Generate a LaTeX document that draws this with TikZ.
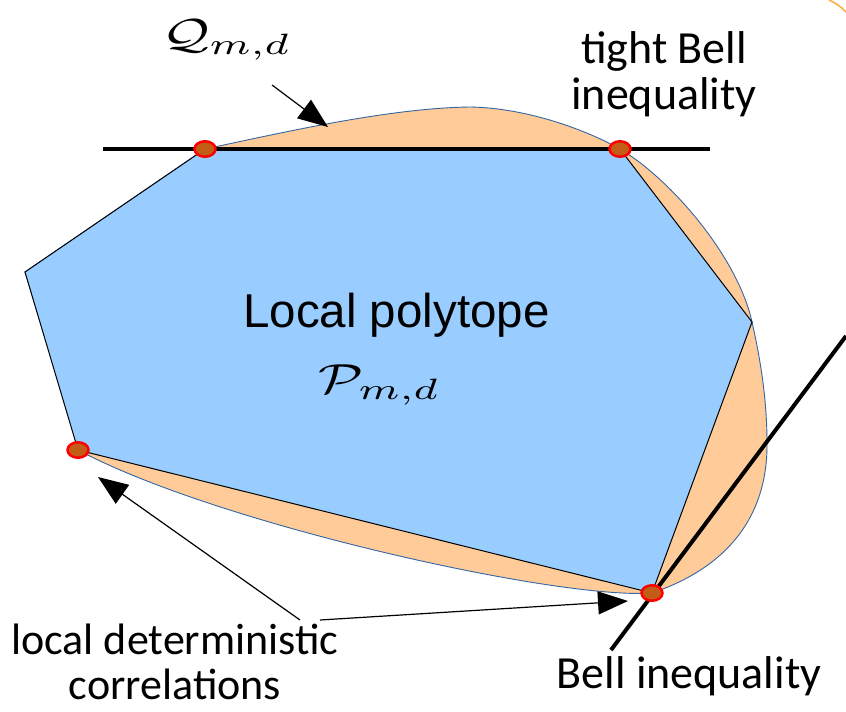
\documentclass[tikz,border=0pt]{standalone}
\usepackage{fontspec}
\usepackage{graphicx}
\newfontfamily\calfont{Carlito}
\newfontfamily\arialfont{Liberation Sans}
\usetikzlibrary{arrows.meta,shapes.geometric}
\definecolor{polyblue}{RGB}{153,204,255}
\definecolor{quantorange}{RGB}{255,204,153}
\definecolor{edgeblue}{RGB}{52,101,164}
\definecolor{dotfill}{RGB}{195,92,22}
\definecolor{arcorange}{RGB}{255,170,60}
\begin{document}
\begin{tikzpicture}[x=1pt,y=-1pt,
  dotmark/.style={ellipse, draw=red, line width=2.5pt, fill=dotfill, minimum width=21pt, minimum height=15.5pt, inner sep=0pt},
  bigarrow/.style={line width=1.2pt, -{Triangle[length=30pt,width=23pt]}},
  ineqline/.style={line width=4pt},
  lbl/.style={inner sep=0pt, font=\calfont\fontsize{46}{46}\selectfont},
  lblsmall/.style={inner sep=0pt, font=\calfont\fontsize{44}{45}\selectfont},
  mathlbl/.style={anchor=base west, inner sep=0pt}
]
\useasboundingbox (0,0) rectangle (846,712);
\fill[white] (0,0) rectangle (846,712);

% polytope vertices
\coordinate (vA) at (205,149);
\coordinate (vB) at (620,149);
\coordinate (vC) at (752,322);
\coordinate (vD) at (652,593);
\coordinate (vE) at (78,450);
\coordinate (vF) at (25,272);

% quantum set
\path[fill=quantorange, draw=edgeblue, line width=0.9pt]
  (vA) .. controls (285,132) and (390,108) .. (470,107)
       .. controls (530,108) and (590,132) .. (vB)
       .. controls (672,180) and (738,258) .. (vC)
       .. controls (762,366) and (767,405) .. (767,443)
       .. controls (768,545) and (690,580) .. (vD)
       .. controls (560,600) and (220,525) .. (80,451)
  -- (vF) -- cycle;

% local polytope
\draw[fill=polyblue, line width=1pt] (vA) -- (vB) -- (vC) -- (vD) -- (vE) -- (vF) -- cycle;

% inequality lines
\coordinate (t1) at (103,149);
\coordinate (t2) at (710,149);
\draw[ineqline] (t1) -- (t2);
\coordinate (b1) at (611,650);
\coordinate (b2) at (846,336);
\draw[ineqline] (b1) -- (b2);

% deterministic points
\node[dotmark] (dotA) at (vA) {};
\node[dotmark] (dotB) at (vB) {};
\node[dotmark] (dotD) at (vD) {};
\node[dotmark] (dotE) at (vE) {};

% arrows
\coordinate (qtail) at (272,85);
\coordinate (qtip) at (328,127);
\draw[bigarrow] (qtail) -- (qtip);
\coordinate (ltail1) at (300,620);
\coordinate (ltip1) at (98,477);
\draw[bigarrow] (ltail1) -- (ltip1);
\coordinate (ltail2) at (320,620);
\coordinate (ltip2) at (628,601);
\draw[bigarrow] (ltail2) -- (ltip2);

% partial arc top right
\draw[arcorange, line width=1.5pt] (829,0) .. controls (836,3) and (841,7) .. (846,12);

% labels
\node[mathlbl] (qlabel) at (162,48) {\scalebox{5.8}[4.2]{$\mathcal{Q}_{m,d}$}};
\node[lbl, align=center] (tightlbl) at (664,74) {tight Bell\\inequality};
\node[anchor=base west, inner sep=0pt, font=\arialfont\fontsize{47.5}{50}\selectfont] (polylbl) at (243,327) {Local polytope};
\node[mathlbl] (plabel) at (318,393) {\scalebox{5.8}[4.2]{$\mathcal{P}_{m,d}$}};
\node[lblsmall, align=center] (ldclbl) at (175,662) {local deterministic\\correlations};
\node[lbl, anchor=base] (belllbl) at (689,688) {Bell inequality};
\end{tikzpicture}
\end{document}
